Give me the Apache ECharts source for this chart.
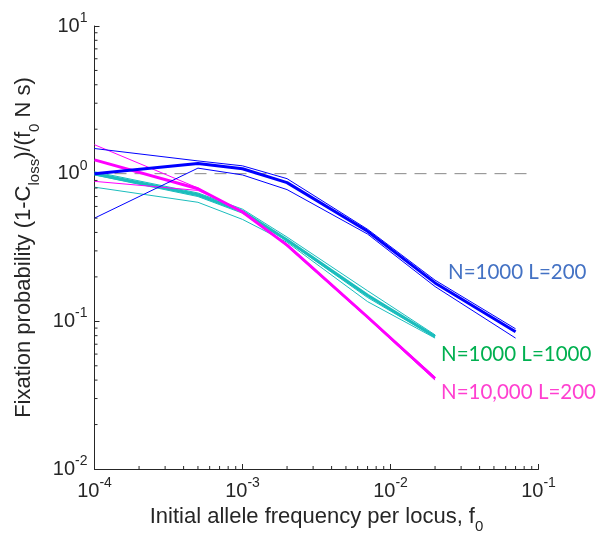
<!DOCTYPE html>
<html>
<head>
<meta charset="utf-8">
<script src="https://cdn.jsdelivr.net/npm/echarts@6/dist/echarts.min.js"></script>
<style>
  html, body { margin: 0; padding: 0; background: #fff; }
  #chart { width: 600px; height: 533px; }
</style>
</head>
<body>
<div id="chart"></div>
<script>
// Initial allele frequencies per locus (x positions of each run)
const freqL200 = [1e-4, 5e-4, 1e-3, 2e-3, 7e-3, 2e-2, 7e-2];
const freqOther = [1e-4, 5e-4, 1e-3, 2e-3, 7e-3, 2e-2];

// N=1000 L=200 (blue): mean and two replicate runs
const blueMean = [1.00, 1.17, 1.08, 0.87, 0.407, 0.182, 0.085];
const blueRunA = [1.48, 1.22, 1.13, 0.925, 0.420, 0.190, 0.089];
const blueRunB = [0.50, 1.09, 0.98, 0.78, 0.390, 0.172, 0.077];

// N=1000 L=1000 (cyan): mean and replicate runs
const cyanMean = [1.00, 0.72, 0.555, 0.355, 0.150, 0.079];
const cyanRunA = [1.03, 0.74, 0.575, 0.372, 0.161, 0.081];
const cyanRunB = [0.81, 0.64, 0.49, 0.343, 0.136, 0.077];
const cyanRunC = [0.98, 0.70, 0.54, 0.350, 0.145, 0.078];

// N=10,000 L=200 (magenta): mean and two replicate runs
const magMean = [1.24, 0.79, 0.55, 0.328, 0.107, 0.041];
const magRunA = [1.57, 0.80, 0.545, 0.333, 0.108, 0.042];
const magRunB = [0.887, 0.77, 0.56, 0.323, 0.105, 0.040];

// Neutral reference level
const refX = [1e-4, 0.089];
const refY = [1, 1];

// Axis ranges and minor tick positions
const xRange = [1e-4, 1e-1];
const yRange = [1e-2, 1e1];
const xMinorTicks = [2e-4,3e-4,4e-4,5e-4,6e-4,7e-4,8e-4,9e-4,
                     2e-3,3e-3,4e-3,5e-3,6e-3,7e-3,8e-3,9e-3,
                     2e-2,3e-2,4e-2,5e-2,6e-2,7e-2,8e-2,9e-2];
const yMinorTicks = [0.02,0.03,0.04,0.05,0.06,0.07,0.08,0.09,
                     0.2,0.3,0.4,0.5,0.6,0.7,0.8,0.9,
                     2,3,4,5,6,7,8,9];

// Group labels
const groupLabels = ['N=1000 L=200', 'N=1000 L=1000', 'N=10,000 L=200'];

const BLUE = '#0000ff', CYAN = '#1bbdbd', MAG = '#ff00ff';
const AXIS = '#262626';
const FONT = '"Liberation Sans", Arial, Helvetica, sans-serif';
const LABEL_FONT = '20.5px Lato, "Open Sans", sans-serif';

const zip = (xs, ys) => xs.map((x, i) => [x, ys[i]]);

function lineSeries(xs, ys, color, width, z) {
  return {
    type: 'line', data: zip(xs, ys), showSymbol: false, symbol: 'none',
    lineStyle: { color: color, width: width }, z: z, silent: true, animation: false
  };
}

// Power-of-ten tick labels: "10" with a raised exponent
const tickLabel = v => '{b|10}{s|' + Math.round(Math.log10(v)) + '}';
const tickRich = {
  b: { fontSize: 20, fontFamily: FONT, color: AXIS },
  s: { fontSize: 14, fontFamily: FONT, color: AXIS, padding: [0, 0, 16, 0] }
};
const titleRich = {
  sub: { fontSize: 15, fontFamily: FONT, color: AXIS, padding: [20, 0, 0, 0] }
};

const chart = echarts.init(document.getElementById('chart'), null, { renderer: 'canvas' });

chart.setOption({
  animation: false,
  backgroundColor: '#ffffff',
  grid: { left: 94.5, top: 26, right: 61.5, bottom: 64, containLabel: false, outerBoundsMode: 'none' },
  xAxis: {
    type: 'log', logBase: 10, min: xRange[0], max: xRange[1],
    axisLine: { show: true, lineStyle: { color: AXIS, width: 1 } },
    axisTick: { show: true, inside: true, length: 5, lineStyle: { color: AXIS } },
    splitLine: { show: false },
    axisLabel: { formatter: tickLabel, rich: tickRich, margin: 7 },
    name: 'Initial allele frequency per locus, f{sub|0}',
    nameLocation: 'middle', nameGap: 27,
    nameTextStyle: { fontSize: 22, fontFamily: FONT, color: AXIS, rich: titleRich }
  },
  yAxis: {
    type: 'log', logBase: 10, min: yRange[0], max: yRange[1],
    axisLine: { show: true, lineStyle: { color: AXIS, width: 1 } },
    axisTick: { show: true, inside: true, length: 5, lineStyle: { color: AXIS } },
    splitLine: { show: false },
    axisLabel: { formatter: tickLabel, rich: tickRich, margin: 7 },
    name: 'Fixation probability (1-C{sub|loss})/(f{sub|0} N s)',
    nameLocation: 'middle', nameGap: 50,
    nameTextStyle: { fontSize: 22, fontFamily: FONT, color: AXIS, rich: titleRich }
  },
  series: [
    {
      type: 'line', data: zip(refX, refY), showSymbol: false, symbol: 'none', silent: true,
      lineStyle: { color: '#888888', width: 1, type: [12, 8] }, z: 1
    },
    lineSeries(freqOther, cyanRunA, CYAN, 1, 2),
    lineSeries(freqOther, cyanRunB, CYAN, 1, 2),
    lineSeries(freqOther, cyanRunC, CYAN, 1, 2),
    lineSeries(freqOther, cyanMean, CYAN, 3, 3),
    lineSeries(freqOther, magRunA, MAG, 1, 4),
    lineSeries(freqOther, magRunB, MAG, 1, 4),
    lineSeries(freqOther, magMean, MAG, 3, 5),
    lineSeries(freqL200, blueRunA, BLUE, 1, 6),
    lineSeries(freqL200, blueRunB, BLUE, 1, 6),
    lineSeries(freqL200, blueMean, BLUE, 3, 7),
    {
      type: 'custom', silent: true, clip: false, z: 8,
      data: xMinorTicks.map(v => [v, yRange[0]]),
      renderItem: (params, api) => {
        const p = api.coord([api.value(0), api.value(1)]);
        return { type: 'line', shape: { x1: p[0], y1: p[1], x2: p[0], y2: p[1] - 3 },
                 style: { stroke: AXIS, lineWidth: 1 } };
      }
    },
    {
      type: 'custom', silent: true, clip: false, z: 8,
      data: yMinorTicks.map(v => [xRange[0], v]),
      renderItem: (params, api) => {
        const p = api.coord([api.value(0), api.value(1)]);
        return { type: 'line', shape: { x1: p[0], y1: p[1], x2: p[0] + 3, y2: p[1] },
                 style: { stroke: AXIS, lineWidth: 1 } };
      }
    }
  ],
  graphic: [
    { type: 'text', left: 448, top: 262, silent: true,
      style: { text: groupLabels[0], fill: '#4472c4', font: LABEL_FONT } },
    { type: 'text', left: 441, top: 344, silent: true,
      style: { text: groupLabels[1], fill: '#00b050', font: LABEL_FONT } },
    { type: 'text', left: 441, top: 382, silent: true,
      style: { text: groupLabels[2], fill: '#ff3fd0', font: LABEL_FONT } }
  ]
});
</script>
</body>
</html>
